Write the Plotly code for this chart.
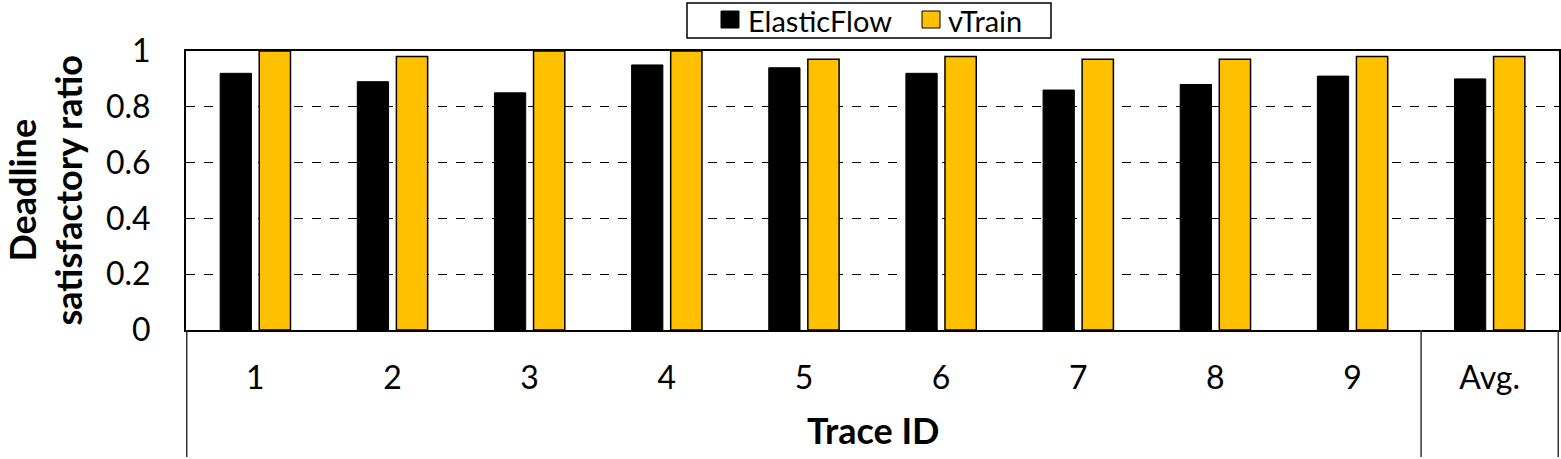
import plotly.graph_objects as go

categories = ["1", "2", "3", "4", "5", "6", "7", "8", "9", "Avg."]
series_names = ["ElasticFlow", "vTrain"]
elasticflow = [0.92, 0.89, 0.85, 0.95, 0.94, 0.92, 0.86, 0.88, 0.91, 0.90]
vtrain = [1.0, 0.98, 1.0, 1.0, 0.97, 0.98, 0.97, 0.97, 0.98, 0.98]
y_ticks = [0, 0.2, 0.4, 0.6, 0.8, 1]
y_tick_labels = ["0", "0.2", "0.4", "0.6", "0.8", "1"]

FONT = "Lato"
COLORS = ["#000000", "#FFC000"]

fig = go.Figure()
fig.add_trace(go.Bar(x=categories, y=elasticflow, name=series_names[0], showlegend=False,
                     marker=dict(color=COLORS[0], line=dict(color="#000000", width=1))))
fig.add_trace(go.Bar(x=categories, y=vtrain, name=series_names[1], showlegend=False,
                     marker=dict(color=COLORS[1], line=dict(color="#000000", width=1.5))))

W, H = 1561, 459
L, R, T, B = 186, 2, 51, 129
pw = W - L - R
ph = H - T - B


def px_x(p):
    return (p - L) / pw


def px_y(p):
    return (H - B - p) / ph


# separator lines in the category area
for xv in [-0.5, 8.5, 9.5]:
    fig.add_shape(type="line", xref="x", yref="paper", x0=xv, x1=xv,
                  y0=0, y1=px_y(457), line=dict(color="#333333", width=1.5))

# legend (drawn manually to match box size)
fig.add_shape(type="rect", xref="paper", yref="paper", x0=px_x(687), x1=px_x(1051),
              y0=px_y(38), y1=px_y(3), line=dict(color="#000000", width=1.5), fillcolor="white")
for name, col, sx, tx in [(series_names[0], COLORS[0], 721, 748), (series_names[1], COLORS[1], 922, 948)]:
    fig.add_shape(type="rect", xref="paper", yref="paper", x0=px_x(sx), x1=px_x(sx + 18),
                  y0=px_y(28), y1=px_y(11), fillcolor=col, line=dict(color="#000000", width=1))
    fig.add_annotation(text=name, xref="paper", yref="paper", x=px_x(tx - 2), y=px_y(20.5),
                       xanchor="left", yanchor="middle", showarrow=False,
                       font=dict(family=FONT, size=29, color="#000000"))

fig.add_annotation(text="<b>Trace ID</b>", xref="paper", yref="paper",
                   x=0.5, y=px_y(430), xanchor="center", yanchor="middle",
                   showarrow=False, font=dict(family=FONT, size=36, color="#000000"))
fig.add_annotation(text="<b>Deadline<br>satisfactory ratio</b>", xref="paper", yref="paper",
                   x=px_x(45), y=0.5, xanchor="center", yanchor="middle",
                   textangle=-90, showarrow=False,
                   font=dict(family=FONT, size=36, color="#000000"))

fig.update_layout(
    width=W, height=H,
    margin=dict(l=L, r=R, t=T, b=B, pad=0, autoexpand=False),
    plot_bgcolor="white", paper_bgcolor="white",
    barmode="group", bargap=0.43, bargroupgap=0.2,
    font=dict(family=FONT, color="#000000"),
    showlegend=False,
    xaxis=dict(type="category", showline=True, linecolor="#000000", linewidth=2, mirror=True,
               ticks="", ticklabelstandoff=19, tickfont=dict(family=FONT, size=32, color="#000000"),
               showgrid=False, zeroline=False, automargin=False),
    yaxis=dict(range=[0, 1], tickvals=y_ticks, ticktext=y_tick_labels,
               showline=True, linecolor="#000000", linewidth=2, mirror=True,
               ticks="", ticklabelstandoff=27, tickfont=dict(family=FONT, size=32, color="#000000"),
               showgrid=True, gridcolor="#000000", gridwidth=1.2, griddash="dash",
               zeroline=False, automargin=False),
)

fig.write_html("out.html", config={"displayModeBar": False},
               post_script="document.body.style.margin='0';")
